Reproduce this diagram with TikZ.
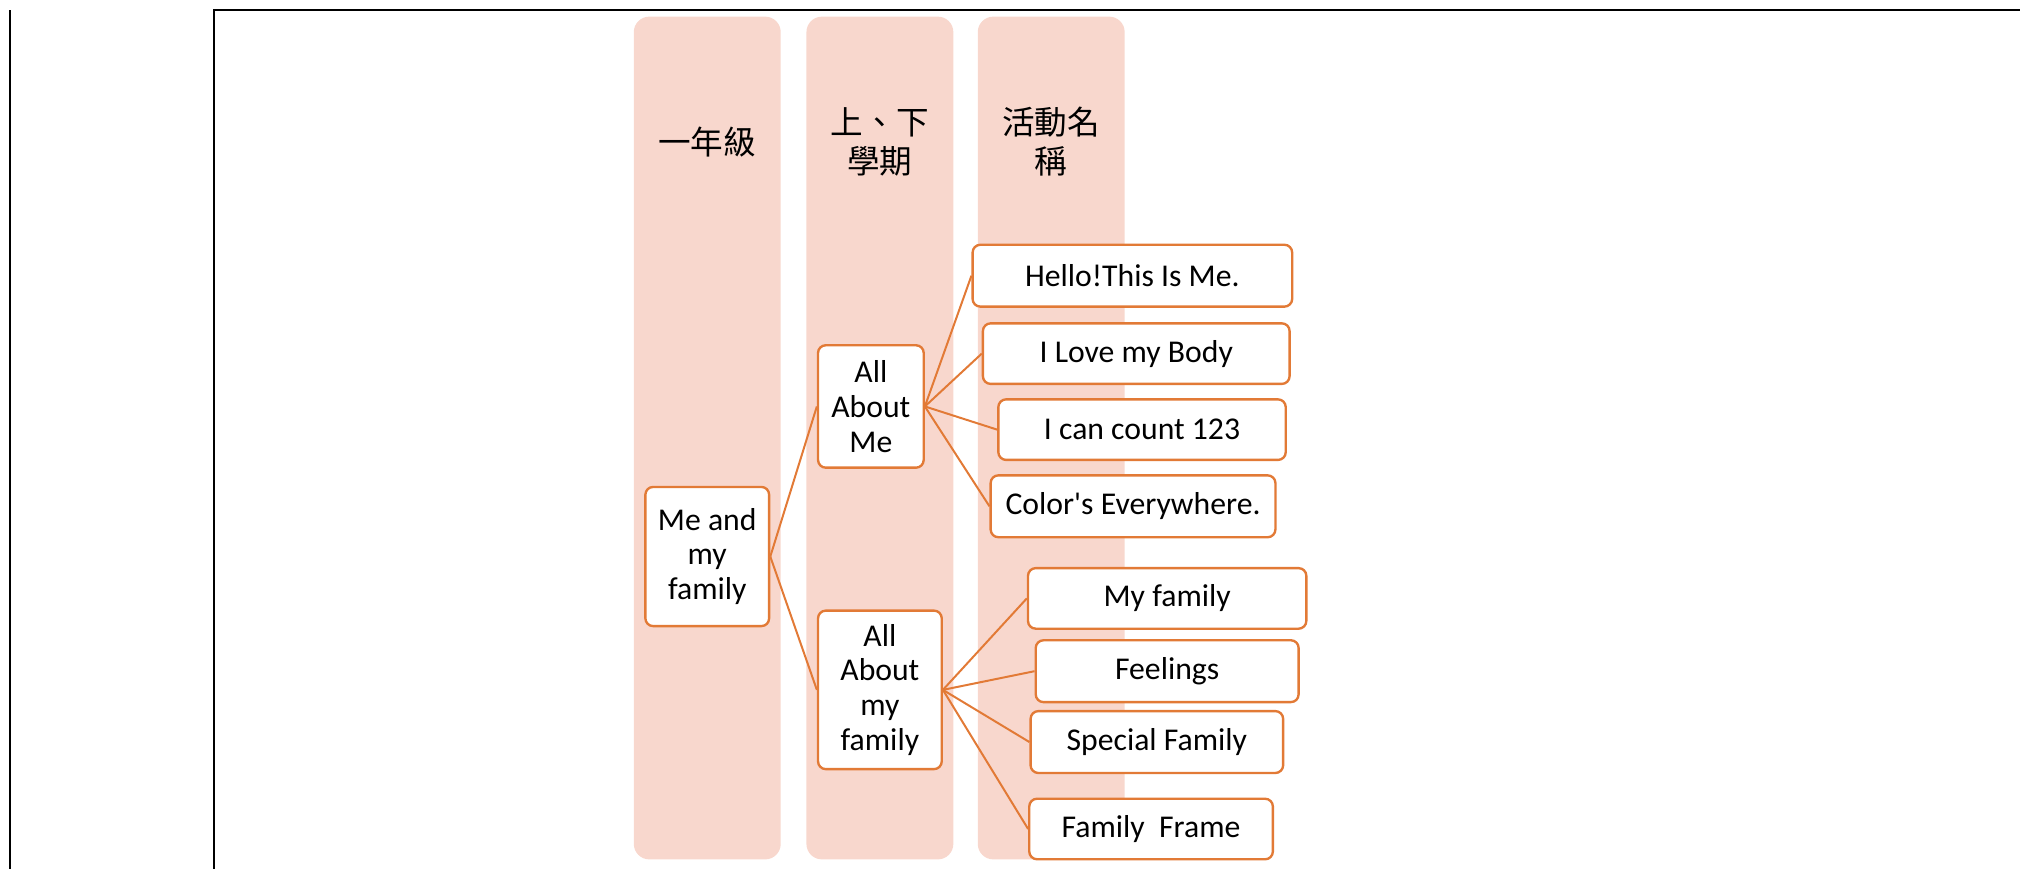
\documentclass[tikz,border=0pt]{standalone}
\usepackage{fontspec}
\setmainfont{Carlito}
\newfontfamily\cjkfont{Noto Sans CJK TC}
\definecolor{bandpink}{HTML}{F8D7CD}
\definecolor{boxorange}{HTML}{E27A36}
\tikzset{
  band/.style={fill=bandpink, rounded corners=0.3cm, inner sep=0pt},
  head/.style={font=\cjkfont\fontsize{18}{21.5}\selectfont, align=center},
  leaf/.style={draw=boxorange, line width=1.3pt, fill=white, rounded corners=0.15cm,
    inner sep=0pt, align=center, font=\fontsize{17.5}{19.2}\selectfont},
  link/.style={draw=boxorange, line width=1.1pt},
}

\begin{document}
\begin{tikzpicture}[x=0.025cm, y=-0.025cm]
    \useasboundingbox (0,0) rectangle (1568,674.5);

    % Page frame
    \draw[line width=1pt] (8,8) -- (8,674.5);
    \draw[line width=1pt] (166,674.5) -- (166,8) -- (1568,8);

    % Columns
    \node[band, minimum width=2.85cm, minimum height=16.35cm] (col1) at (549,340) {};
    \node[band, minimum width=2.85cm, minimum height=16.35cm] (col2) at (683,340) {};
    \node[band, minimum width=2.85cm, minimum height=16.35cm] (col3) at (816,340) {};

    % Column headings
    \node[head] (h1) at (549,110) {一年級};
    \node[head] (h2) at (683,110) {上、下\\學期};
    \node[head] (h3) at (816,110) {活動名\\稱};

    % Theme
    \node[leaf, minimum width=2.4cm, minimum height=2.7cm] (root) at (549,432) {Me and\\my\\family};

    % Terms
    \node[leaf, minimum width=2.05cm, minimum height=2.375cm] (aboutme) at (676,315.5) {All\\About\\Me};
    \node[leaf, minimum width=2.4cm, minimum height=3.075cm] (aboutfam) at (683,535.5) {All\\About\\my\\family};

    % Activities
    \node[leaf, minimum width=6.2cm, minimum height=1.2cm] (hello) at (879,214) {Hello!This Is Me.};
    \node[leaf, minimum width=5.95cm, minimum height=1.175cm] (body) at (882,274.5) {I Love my Body};
    \node[leaf, minimum width=5.575cm, minimum height=1.175cm] (count) at (886.5,333.5) {I can count 123};
    \node[leaf, minimum width=5.525cm, minimum height=1.2cm] (colors) at (879.5,393) {Color\textquotesingle s Everywhere.};
    \node[leaf, minimum width=5.4cm, minimum height=1.175cm] (myfam) at (906,464.5) {My family};
    \node[leaf, minimum width=5.1cm, minimum height=1.2cm] (feel) at (906,521) {Feelings};
    \node[leaf, minimum width=4.9cm, minimum height=1.2cm] (special) at (898,576) {Special Family};
    \node[leaf, minimum width=4.725cm, minimum height=1.175cm] (frame) at (893.5,643.5) {Family~ Frame};

    % Links
    \draw[link] (root.east) -- (aboutme.west);
    \draw[link] (root.east) -- (aboutfam.west);
    \foreach \leafname in {hello, body, count, colors}
      \draw[link] (aboutme.east) -- (\leafname.west);
    \foreach \leafname in {myfam, feel, special, frame}
      \draw[link] (aboutfam.east) -- (\leafname.west);
\end{tikzpicture}
\end{document}
